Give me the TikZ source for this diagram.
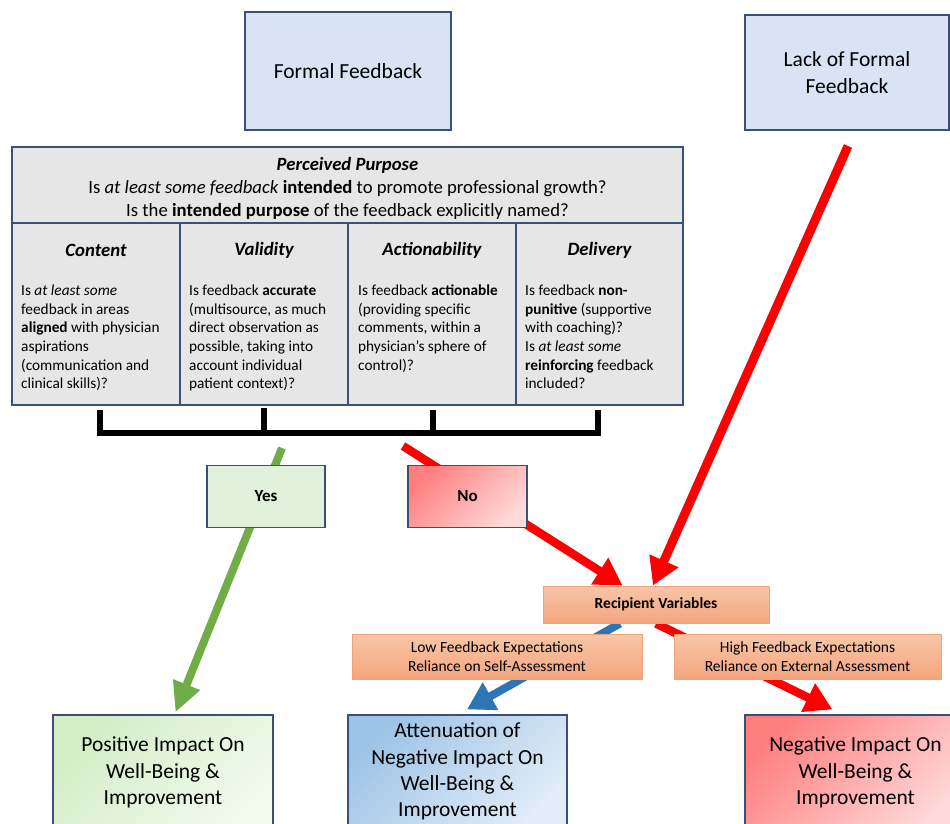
\documentclass[tikz,border=0pt]{standalone}
\usepackage{fontspec}
\setmainfont{Carlito}
\usetikzlibrary{arrows.meta,calc}
\pgfdeclarelayer{bg}
\pgfsetlayers{bg,main}
\definecolor{boxblue}{HTML}{DAE3F3}
\definecolor{edgeblue}{HTML}{3A4F7A}
\definecolor{tablegray}{HTML}{E7E6E6}
\definecolor{yesgreen}{HTML}{E2EFDA}
\definecolor{arrgreen}{HTML}{70AD47}
\definecolor{arrblue}{HTML}{2E75B6}
\definecolor{arrred}{HTML}{FF0000}
\definecolor{redA}{HTML}{FF7F7F}
\definecolor{redB}{HTML}{FFD8D8}
\definecolor{salA}{HTML}{F8C6A8}
\definecolor{salB}{HTML}{F3A57E}
\definecolor{saledge}{HTML}{F0A375}
\definecolor{grnA}{HTML}{D3EDC5}
\definecolor{grnB}{HTML}{F2FAEE}
\definecolor{bluA}{HTML}{9DC3E6}
\definecolor{bluB}{HTML}{E1EDF8}
\tikzset{
  box/.style={draw=edgeblue, line width=1.2pt, rectangle, inner sep=0pt, align=center},
  bigtext/.style={font=\fontsize{21.5}{26.3}\selectfont},
  salbox/.style={draw=saledge, line width=1pt, rectangle, top color=salA, bottom color=salB, align=center, inner sep=0pt, font=\fontsize{15.5}{19}\selectfont},
  cell/.style={draw=edgeblue, line width=1.5pt, fill=tablegray, rectangle, inner sep=0pt},
  colhead/.style={font=\fontsize{18.8}{22}\selectfont\bfseries\itshape, inner sep=0pt},
  colbody/.style={font=\fontsize{15.3}{18.7}\selectfont, align=left, inner sep=0pt, anchor=north west},
  arr/.style={line width=8.5pt, line cap=butt, -{Triangle[width=30pt,length=27pt]}},
  bracketline/.style={line width=6pt, line join=miter, line cap=butt, black}
}
\begin{document}
\begin{tikzpicture}[x=1pt,y=-1pt]
\useasboundingbox (0,0) rectangle (950,823);

% top boxes
\node[box, fill=boxblue, bigtext, minimum width=206pt, minimum height=118pt] (formal) at (348,71) {Formal Feedback};
\node[box, fill=boxblue, bigtext, minimum width=204pt, minimum height=115pt] (lack) at (847,72.5) {Lack of Formal\\Feedback};

% table
\node[cell, minimum width=671pt, minimum height=76pt] (purpose) at (347.5,185) {};
\node[font=\fontsize{18.7}{23}\selectfont, align=center, inner sep=0pt] (purposetext) at (347.5,188.5)
  {\textbf{\textit{Perceived Purpose}}\\
   Is \textit{at least some feedback} \textbf{intended} to promote professional growth?\\
   Is the \textbf{intended purpose} of the feedback explicitly named?};
\node[cell, minimum width=168pt, minimum height=182pt] (content) at (96,314) {};
\node[cell, minimum width=168pt, minimum height=182pt] (validity) at (264,314) {};
\node[cell, minimum width=168pt, minimum height=182pt] (action) at (432,314) {};
\node[cell, minimum width=167pt, minimum height=182pt] (delivery) at (599.5,314) {};
\node[colhead] (contenth) at (96,250) {Content};
\node[colhead] (validityh) at (264,250) {Validity};
\node[colhead] (actionh) at (432,250) {Actionability};
\node[colhead] (deliveryh) at (599.5,250) {Delivery};
\node[colbody] (contentb) at (21,284.5) {Is \textit{at least some}\\feedback in areas\\\textbf{aligned} with physician\\aspirations\\(communication and\\clinical skills)?};
\node[colbody] (validityb) at (189,284.5) {Is feedback \textbf{accurate}\\(multisource, as much\\direct observation as\\possible, taking into\\account individual\\patient context)?};
\node[colbody] (actionb) at (358,284.5) {Is feedback \textbf{actionable}\\(providing specific\\comments, within a\\physician’s sphere of\\control)?};
\node[colbody] (deliveryb) at (525,284.5) {Is feedback \textbf{non-}\\\textbf{punitive} (supportive\\with coaching)?\\Is \textit{at least some}\\\textbf{reinforcing} feedback\\included?};

% bracket
\draw[bracketline] (99.5,410) -- (99.5,432.5) -- (598,432.5) -- (598,410);
\draw[bracketline] (264,407.5) -- (264,432.5);
\draw[bracketline] (433,410) -- (433,432.5);

% decision boxes
\node[box, fill=yesgreen, minimum width=118pt, minimum height=62pt, font=\fontsize{17}{20}\selectfont\bfseries] (yes) at (266,496.5) {Yes};
\node[box, left color=redA, right color=redB, shading angle=45, minimum width=119pt, minimum height=62pt, font=\fontsize{17}{20}\selectfont\bfseries] (no) at (467.5,496.5) {No};

% recipient boxes
\node[salbox, minimum width=226pt, minimum height=37pt, font=\fontsize{15.5}{19}\selectfont\bfseries] (recip) at (656,604.5) {Recipient Variables};
\node[salbox, minimum width=290pt, minimum height=45pt] (low) at (497,656.5) {Low Feedback Expectations\\Reliance on Self-Assessment};
\node[salbox, minimum width=267pt, minimum height=45pt] (high) at (807.5,656.5) {High Feedback Expectations\\Reliance on External Assessment};

% outcome boxes
\node[box, left color=grnA, right color=grnB, shading angle=45, bigtext, minimum width=220pt, minimum height=115pt] (positive) at (163,772.5) {Positive Impact On\\Well-Being \&\\Improvement};
\node[box, left color=bluA, right color=bluB, shading angle=45, bigtext, minimum width=219pt, minimum height=113pt] (atten) at (457.5,771.5) {Attenuation of\\Negative Impact On\\Well-Being \&\\Improvement};
\node[box, left color=redA, right color=redB, shading angle=45, bigtext, minimum width=221pt, minimum height=115pt] (negative) at (855.5,772.5) {Negative Impact On\\Well-Being \&\\Improvement};

% connectors
\coordinate (gstart) at (282,448);
\coordinate (rstart) at (403,446);
\coordinate (lstart) at (848,146);
\begin{pgfonlayer}{bg}
\draw[arr, draw=arrgreen, line width=8pt, -{Triangle[width=27pt,length=30pt]}, arrgreen] (gstart) -- ($(positive.north west)+(123,-2)$);
\draw[arr, arrred] (rstart) -- ($(recip.north west)+(80,0)$);
\draw[arr, arrred, line width=9pt] (lstart) -- ($(recip.north)+(-3,0)$);
\draw[arr, arrblue, line width=8pt] ($(recip.south)+(-36,0)$) -- ($(atten.north)+(9.5,-5)$);
\draw[arr, arrred] ($(recip.south)+(0,0)$) -- ($(negative.north west)+(88,-5)$);
\end{pgfonlayer}
\end{tikzpicture}
\end{document}
